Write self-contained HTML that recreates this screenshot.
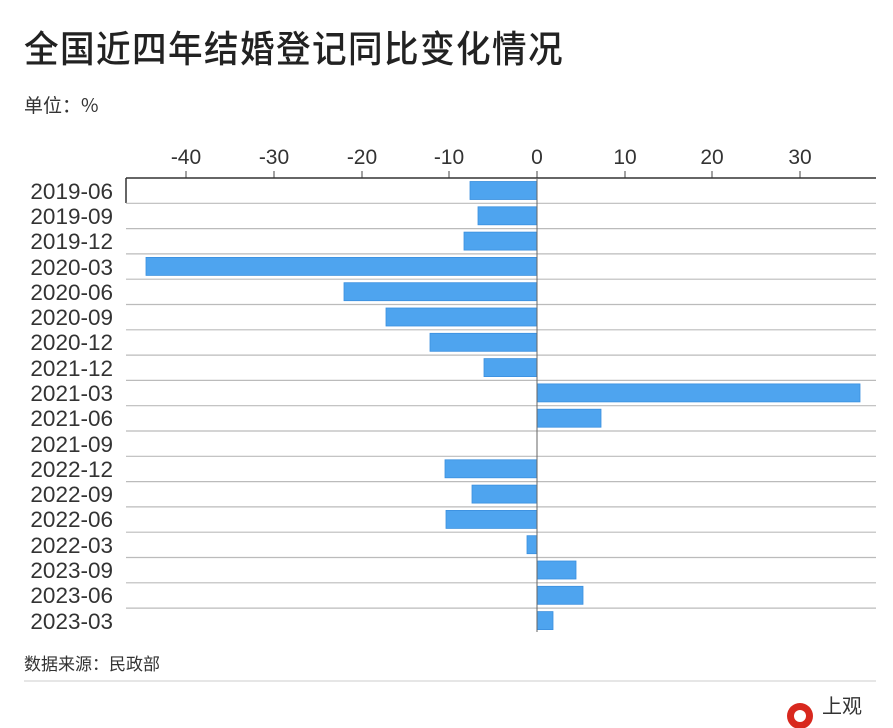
<!DOCTYPE html>
<html><head><meta charset="utf-8"><style>
html,body{margin:0;padding:0;background:#fff;}
svg{display:block;font-family:"Liberation Sans","Noto Sans CJK SC",sans-serif;}
</style></head><body>
<svg width="893" height="728" viewBox="0 0 893 728" xmlns="http://www.w3.org/2000/svg">
<rect width="893" height="728" fill="#fff"/>
<text x="24" y="62" font-size="37" fill="#222" letter-spacing="1.5" font-family="Noto Sans CJK SC, sans-serif" font-weight="500" textLength="540" lengthAdjust="spacingAndGlyphs">全国近四年结婚登记同比变化情况</text>
<text x="24" y="112" font-size="19" fill="#333" font-family="Noto Sans CJK SC, sans-serif">单位：%</text>
<g font-size="21" fill="#333" text-anchor="middle">
<text x="186" y="164">-40</text><text x="274" y="164">-30</text><text x="362" y="164">-20</text><text x="449" y="164">-10</text><text x="537" y="164">0</text><text x="625" y="164">10</text><text x="712" y="164">20</text><text x="800" y="164">30</text>
</g>
<g stroke="#444" stroke-width="1">
<line x1="186" y1="171" x2="186" y2="178"/><line x1="274" y1="171" x2="274" y2="178"/><line x1="362" y1="171" x2="362" y2="178"/><line x1="449" y1="171" x2="449" y2="178"/><line x1="537" y1="171" x2="537" y2="178"/><line x1="625" y1="171" x2="625" y2="178"/><line x1="712" y1="171" x2="712" y2="178"/><line x1="800" y1="171" x2="800" y2="178"/>
</g>
<line x1="126" y1="178" x2="876" y2="178" stroke="#333" stroke-width="1.5"/>
<line x1="126" y1="178" x2="126" y2="203" stroke="#333" stroke-width="1.5"/>
<g fill="#4ea4ef" stroke="#3a8fde" stroke-width="0.8">
<rect x="470" y="181.5" width="67" height="18"/>
<rect x="478" y="206.8" width="59" height="18"/>
<rect x="464" y="232.1" width="73" height="18"/>
<rect x="146" y="257.4" width="391" height="18"/>
<rect x="344" y="282.7" width="193" height="18"/>
<rect x="386" y="308" width="151" height="18"/>
<rect x="430" y="333.3" width="107" height="18"/>
<rect x="484" y="358.6" width="53" height="18"/>
<rect x="537" y="383.9" width="323" height="18"/>
<rect x="537" y="409.2" width="64" height="18"/>
<rect x="445" y="459.8" width="92" height="18"/>
<rect x="472" y="485.1" width="65" height="18"/>
<rect x="446" y="510.4" width="91" height="18"/>
<rect x="527" y="535.7" width="10" height="18"/>
<rect x="537" y="561" width="39" height="18"/>
<rect x="537" y="586.3" width="46" height="18"/>
<rect x="537" y="611.6" width="16" height="18"/>
</g>
<g stroke="#bbb" stroke-width="1.2">
<line x1="126" y1="203.3" x2="876" y2="203.3"/><line x1="126" y1="228.6" x2="876" y2="228.6"/><line x1="126" y1="253.9" x2="876" y2="253.9"/><line x1="126" y1="279.2" x2="876" y2="279.2"/><line x1="126" y1="304.5" x2="876" y2="304.5"/><line x1="126" y1="329.8" x2="876" y2="329.8"/><line x1="126" y1="355.1" x2="876" y2="355.1"/><line x1="126" y1="380.4" x2="876" y2="380.4"/><line x1="126" y1="405.7" x2="876" y2="405.7"/><line x1="126" y1="431" x2="876" y2="431"/><line x1="126" y1="456.3" x2="876" y2="456.3"/><line x1="126" y1="481.6" x2="876" y2="481.6"/><line x1="126" y1="506.9" x2="876" y2="506.9"/><line x1="126" y1="532.2" x2="876" y2="532.2"/><line x1="126" y1="557.5" x2="876" y2="557.5"/><line x1="126" y1="582.8" x2="876" y2="582.8"/><line x1="126" y1="608.1" x2="876" y2="608.1"/>
</g>
<line x1="537" y1="178" x2="537" y2="632" stroke="#666" stroke-width="1"/>
<g font-size="22.5" fill="#333" text-anchor="end">
<text x="113" y="199">2019-06</text><text x="113" y="224">2019-09</text><text x="113" y="249">2019-12</text><text x="113" y="275">2020-03</text><text x="113" y="300">2020-06</text><text x="113" y="325">2020-09</text><text x="113" y="350">2020-12</text><text x="113" y="376">2021-12</text><text x="113" y="401">2021-03</text><text x="113" y="426">2021-06</text><text x="113" y="452">2021-09</text><text x="113" y="477">2022-12</text><text x="113" y="502">2022-09</text><text x="113" y="527">2022-06</text><text x="113" y="553">2022-03</text><text x="113" y="578">2023-09</text><text x="113" y="603">2023-06</text><text x="113" y="629">2023-03</text>
</g>
<text x="24" y="670" font-size="17" fill="#333" font-family="Noto Sans CJK SC, sans-serif">数据来源：民政部</text>
<line x1="24" y1="681" x2="876" y2="681" stroke="#ccc" stroke-width="1"/>
<circle cx="800" cy="716" r="13" fill="#d8281e"/>
<circle cx="800" cy="716" r="6" fill="#fff"/>
<text x="822" y="713" font-size="20" fill="#333" font-family="Noto Sans CJK SC, sans-serif">上观</text>
</svg>
</body></html>
